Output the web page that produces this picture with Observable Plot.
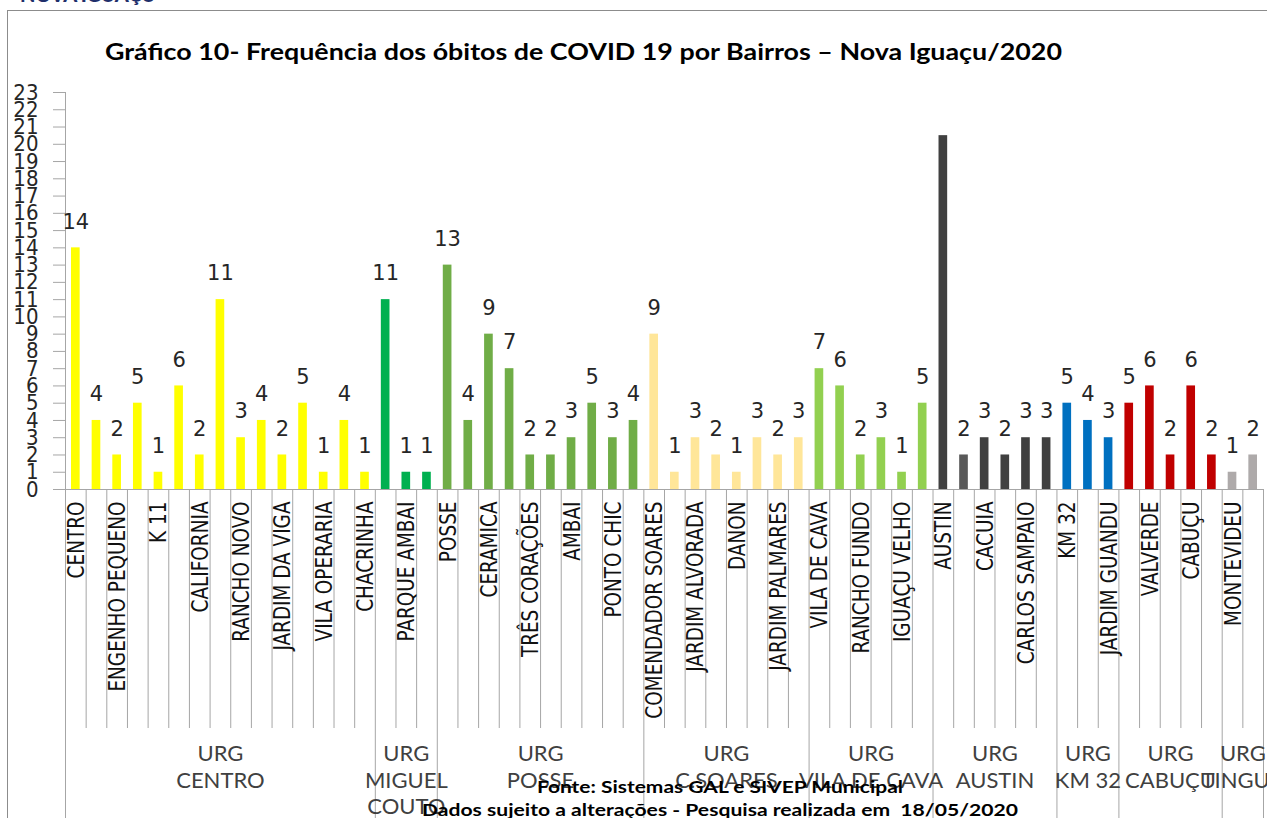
<!DOCTYPE html>
<html>
<head>
<meta charset="utf-8">
<script src="https://cdn.jsdelivr.net/npm/d3@7"></script>
<script src="https://cdn.jsdelivr.net/npm/@observablehq/plot@0.6"></script>
<style>
  html, body { margin: 0; padding: 0; background: #fff; overflow: hidden; }
  #wrap { position: relative; width: 1267px; height: 818px; overflow: hidden; background: #fff; }
  #frame { position: absolute; left: 7px; top: 10px; width: 1400px; height: 900px;
           border-left: 1px solid #8c8c8c; border-top: 1px solid #8c8c8c; }
  #logo { position: absolute; left: 20px; top: -16px; font: 900 20px Lato, sans-serif; color: #1f2f6b;
          white-space: nowrap; line-height: 1; letter-spacing: -0.3px; }
  #chart { position: absolute; left: 0; top: 0; }
  .txt { position: absolute; white-space: nowrap; line-height: 1; transform-origin: 0 0; color: #000; }
  #title { font: bold 22px Lato, sans-serif; left: 105px; top: 38px; }
  .note { font: bold 17px Lato, sans-serif; }
</style>
</head>
<body>
<div id="wrap">
  <div id="chart"></div>
  <div id="frame"></div>
  <div id="logo">NOVA IGUAÇU</div>
  <div id="title" class="txt">Gráfico 10- Frequência dos óbitos de COVID 19 por Bairros – Nova Iguaçu/2020</div>
  <div id="note1" class="txt note">Fonte: Sistemas GAL e SIVEP Municipal</div>
  <div id="note2" class="txt note">Dados sujeito a alterações - Pesquisa realizada em&nbsp; 18/05/2020</div>
</div>
<script>
// ---- data ----
const groups = ["URG\nCENTRO", "URG\nMIGUEL\nCOUTO", "URG\nPOSSE", "URG\nC.SOARES", "URG\nVILA DE CAVA",
                "URG\nAUSTIN", "URG\nKM 32", "URG\nCABUÇU", "URG\nTINGUÁ"];
const groupSizes = [15, 3, 10, 8, 6, 6, 3, 5, 2];

// neighbourhood names (only every other one is printed in the original chart)
const neighborhoods = [
  "CENTRO", "", "ENGENHO PEQUENO", "", "K 11", "", "CALIFORNIA", "", "RANCHO NOVO", "",
  "JARDIM DA VIGA", "", "VILA OPERARIA", "", "CHACRINHA",
  "", "PARQUE AMBAI", "",
  "POSSE", "", "CERAMICA", "", "TRÊS CORAÇÕES", "", "AMBAI", "", "PONTO CHIC", "",
  "COMENDADOR SOARES", "", "JARDIM ALVORADA", "", "DANON", "", "JARDIM PALMARES", "",
  "VILA DE CAVA", "", "RANCHO FUNDO", "", "IGUAÇU VELHO", "",
  "AUSTIN", "", "CACUIA", "", "CARLOS SAMPAIO", "",
  "KM 32", "", "JARDIM GUANDU",
  "", "VALVERDE", "", "CABUÇU", "",
  "MONTEVIDEU", ""
];
const deaths = [
  14, 4, 2, 5, 1, 6, 2, 11, 3, 4, 2, 5, 1, 4, 1,
  11, 1, 1,
  13, 4, 9, 7, 2, 2, 3, 5, 3, 4,
  9, 1, 3, 2, 1, 3, 2, 3,
  7, 6, 2, 3, 1, 5,
  20.5, 2, 3, 2, 3, 3,
  5, 4, 3,
  5, 6, 2, 6, 2,
  1, 2
];
const yTicks = d3.range(0, 24);

// ---- styles ----
const groupColors = ["#FFFF00", "#00B050", "#70AD47", "#FFE699", "#92D050", "#404040", "#0070C0", "#C00000", "#AEAAAA"];
const barColorOverrides = {43: "#595959"};

// ---- build table ----
const rows = [];
const bounds = [0];
let idx = 0;
const groupRows = [];
groups.forEach((g, gi) => {
  const start = idx;
  for (let k = 0; k < groupSizes[gi]; k++, idx++) {
    rows.push({i: idx, name: neighborhoods[idx], value: deaths[idx],
               label: Number.isInteger(deaths[idx]) ? String(deaths[idx]) : "",
               color: barColorOverrides[idx] ?? groupColors[gi]});
  }
  bounds.push(idx);
  groupRows.push({center: (start + idx) / 2, label: g});
});
const n = rows.length;
const catSeps = d3.range(1, n).filter(b => !bounds.includes(b));

const W = 1267, H = 818, ML = 65, MR = 4, MT = 92, MB = 329;
const plotW = W - ML - MR, plotH = H - MT - MB;
const gray = "#a6a6a6";

const chart = Plot.plot({
  width: W, height: H,
  marginLeft: ML, marginRight: MR, marginTop: MT, marginBottom: MB,
  x: {type: "linear", domain: [0, n], axis: null},
  y: {domain: [0, 23], axis: null},
  color: {type: "identity"},
  style: {background: "transparent", overflow: "visible"},
  marks: [
    // y ticks
    Plot.ruleY(yTicks, {y: d => d, stroke: gray, insetLeft: -12, insetRight: plotW}),
    // category separators below axis
    Plot.ruleX(catSeps, {x: d => d, stroke: gray, insetTop: plotH, insetBottom: -239}),
    // group separators
    Plot.ruleX(bounds.slice(1), {x: d => d, stroke: gray, insetTop: plotH, insetBottom: -MB}),
    // y axis line
    Plot.ruleX([0], {x: d => d, stroke: gray, insetBottom: -MB}),
    // bars
    Plot.rectY(rows, {x1: d => d.i, x2: d => d.i + 1, y: "value", fill: "color", insetLeft: 6, insetRight: 6}),
    // baseline
    Plot.ruleY([0], {stroke: gray}),
    // value labels
    Plot.text(rows.filter(d => d.label), {x: d => d.i + 0.5, y: "value", text: "label", dy: -26,
      fontSize: 21, fontFamily: "DejaVu Sans", fill: "#262626"}),
    // y tick labels
    Plot.text(yTicks, {y: d => d, text: d => String(d), frameAnchor: "left", dx: -27, textAnchor: "end",
      fontSize: 22, fontFamily: "DejaVu Sans Condensed", fill: "#262626"}),
    // category labels
    Plot.text(rows.filter(d => d.name), {x: d => d.i + 0.5, text: "name", frameAnchor: "bottom", dy: 12, dx: 8,
      rotate: -90, textAnchor: "end", fontSize: 20.5, fontFamily: "DejaVu Sans Condensed", fill: "#111"}),
    // group labels
    Plot.text(groupRows, {x: "center", text: "label", frameAnchor: "bottom", dy: 253, lineAnchor: "top",
      lineHeight: 1.2, fontSize: 22, fontFamily: "Lato", fill: "#404040"})
  ]
});
document.getElementById("chart").appendChild(chart);

// thicken rotated labels slightly like the original rendering
d3.select(chart).selectAll("text").each(function() {
  const t = this.getAttribute("transform");
  if (t && t.includes("rotate(-90)")) this.setAttribute("transform", t + " scale(1,1.15)");
});

// fit html texts to the original widths
function fit(id, left, width, top) {
  const el = document.getElementById(id);
  const w = el.getBoundingClientRect().width;
  el.style.left = left + "px";
  el.style.top = top + "px";
  el.style.transform = `scaleX(${width / w})`;
}
fit("title", 105, 957, 38);
fit("note1", 720 - 183, 366, 776);
fit("note2", 720 - 298, 596, 799);
</script>
</body>
</html>
